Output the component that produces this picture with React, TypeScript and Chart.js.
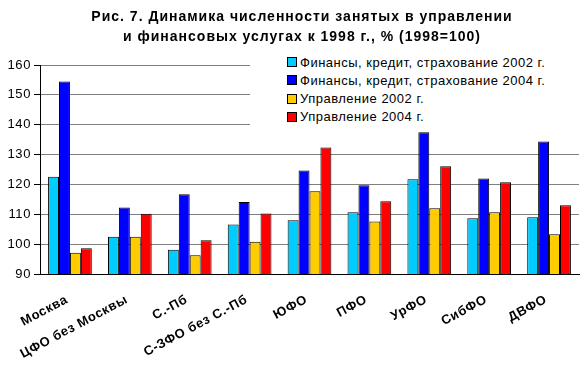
import React, { useEffect, useRef } from "react";
import { Chart, registerables } from "chart.js";

Chart.register(...registerables);

const titleLines = [
  "Рис. 7. Динамика численности занятых в управлении",
  "и финансовых услугах к 1998 г., % (1998=100)",
];

const categories = [
  "Москва",
  "ЦФО без Москвы",
  "С.-Пб",
  "С-ЗФО без С.-Пб",
  "ЮФО",
  "ПФО",
  "УрФО",
  "СибФО",
  "ДВФО",
];

const seriesNames = [
  "Финансы, кредит, страхование 2002 г.",
  "Финансы, кредит, страхование 2004 г.",
  "Управление 2002 г.",
  "Управление 2004 г.",
];

const finance2002 = [122.6, 102.5, 98.1, 106.6, 108.0, 110.7, 121.7, 108.7, 109.0];
const finance2004 = [154.5, 112.3, 116.7, 114.1, 124.7, 119.7, 137.5, 122.0, 134.4];
const admin2002 = [97.1, 102.5, 96.3, 100.8, 117.7, 107.6, 112.0, 110.7, 103.3];
const admin2004 = [98.6, 110.2, 101.3, 110.3, 132.4, 114.4, 126.1, 120.7, 113.0];

const seriesColors = ["#00CCFF", "#0000FF", "#FFCC00", "#FF0000"];

const yMin = 90;
const yMax = 160;
const yStep = 10;

const FONT = "Arial, 'Liberation Sans', sans-serif";

const spacingPlugin = {
  id: "letterSpacing",
  beforeLayout(chart: any) {
    chart.ctx.letterSpacing = "0.6px";
  },
  beforeDraw(chart: any) {
    chart.ctx.letterSpacing = "0.6px";
  },
};

const titlePlugin = {
  id: "customTitle",
  afterDraw(chart: any) {
    const ctx = chart.ctx;
    ctx.save();
    ctx.letterSpacing = "1px";
    ctx.font = `bold 14px ${FONT}`;
    ctx.fillStyle = "#000000";
    ctx.textAlign = "center";
    ctx.textBaseline = "middle";
    titleLines.forEach((line, i) => {
      ctx.fillText(line, 302, 17 + i * 20);
    });
    ctx.restore();
  },
};

export default function App() {
  const canvasRef = useRef<HTMLCanvasElement | null>(null);

  useEffect(() => {
    document.body.style.margin = "0";
    const canvas = canvasRef.current;
    if (!canvas) return;
    const values = [finance2002, finance2004, admin2002, admin2004];
    const chart = new Chart(canvas, {
      type: "bar",
      data: {
        labels: categories,
        datasets: values.map((v, i) => ({
          label: seriesNames[i],
          data: v,
          backgroundColor: seriesColors[i],
          borderColor: "#000000",
          borderWidth: 1,
          borderSkipped: false,
          categoryPercentage: 0.73,
          barPercentage: 1.0,
        })),
      },
      plugins: [spacingPlugin, titlePlugin],
      options: {
        responsive: false,
        animation: false,
        layout: { padding: { left: 0, right: 3, top: 65, bottom: 0 } },
        plugins: {
          legend: { display: false },
          tooltip: { enabled: false },
          title: { display: false },
        },
        scales: {
          x: {
            grid: { display: false, drawTicks: false },
            border: { color: "#000000", width: 1 },
            ticks: {
              color: "#000000",
              font: { family: FONT, size: 13, weight: "bold" },
              maxRotation: 28,
              minRotation: 28,
              autoSkip: false,
              padding: 18,
              labelOffset: -3,
            },
            afterFit: (s: any) => {
              s.height = 96;
            },
          },
          y: {
            min: yMin,
            max: yMax,
            grid: {
              color: "#808080",
              tickColor: "#000000",
              tickLength: 6,
            },
            border: { color: "#000000", width: 1 },
            ticks: {
              stepSize: yStep,
              color: "#000000",
              font: { family: FONT, size: 13 },
              padding: 3,
            },
            afterFit: (s: any) => {
              s.width = 40;
            },
          },
        },
      },
    });
    return () => chart.destroy();
  }, []);

  return (
    <div style={{ position: "relative", width: 582, height: 370 }}>
      <canvas ref={canvasRef} width={582} height={370} />
      <div
        style={{
          position: "absolute",
          left: 250,
          top: 50,
          width: 330,
          height: 78,
          background: "#ffffff",
        }}
      >
        {seriesNames.map((name, i) => (
          <div
            key={name}
            style={{
              position: "absolute",
              left: 37,
              top: 5 + i * 18.3,
              height: 14,
              display: "flex",
              alignItems: "center",
              fontFamily: FONT,
              fontSize: 13,
              letterSpacing: "0.5px",
              color: "#000000",
              whiteSpace: "nowrap",
            }}
          >
            <span
              style={{
                display: "inline-block",
                width: 8,
                height: 8,
                border: "1px solid #000000",
                background: seriesColors[i],
                marginRight: 3,
              }}
            />
            {name}
          </div>
        ))}
      </div>
    </div>
  );
}
